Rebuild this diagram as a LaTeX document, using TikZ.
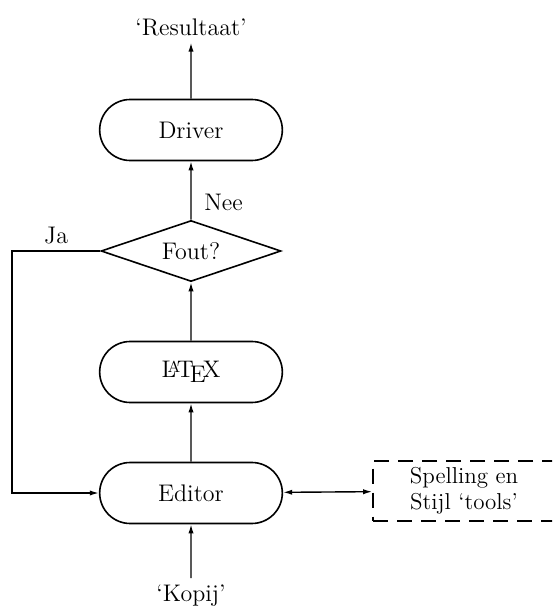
\documentclass[tikz,border=0pt]{standalone}
\usetikzlibrary{shapes.misc,shapes.geometric,arrows.meta}

\begin{document}
\begin{tikzpicture}[x=0.5pt,y=-0.5pt,
    >={Latex[length=4.5pt,width=2.6pt]},
    font=\large,
    pill/.style={draw, line width=0.8pt, rounded rectangle, minimum width=98pt, minimum height=30.5pt},
    choice/.style={draw, line width=0.8pt, diamond, aspect=3, inner sep=0pt, minimum width=90pt, minimum height=30.5pt},
    toolbox/.style={draw, line width=0.8pt, dash pattern=on 7.5pt off 4.5pt, minimum width=91pt, minimum height=30pt, align=center},
    flow/.style={->, line width=0.7pt}]
            \clip (0,0) rectangle (552,610);

            \node (res) at (191,27) {`Resultaat'};
            \node[pill] (driver) at (191,130) {Driver};
            \node[choice] (fout) at (191,251) {Fout?};
            \node[pill] (latex) at (191,372) {\LaTeX};
            \node[pill] (editor) at (191,493) {Editor};
            \node (kopij) at (191,596) {`Kopij'};
            \node[toolbox, font=\normalsize\fontsize{11.5}{13}\selectfont] (tools) at (464,491) {Spelling en\\Stijl `tools'};
            \coordinate (ja) at (12,251);

            \draw[flow] (driver) -- (res);
            \draw[flow] (fout) -- node[right=3pt, pos=0.3] (nee) {Nee} (driver);
            \draw[flow] (latex) -- (fout);
            \draw[flow] (editor) -- (latex);
            \draw[flow] (kopij) -- (editor);
            \draw[flow] (fout.west) -- node[above, pos=0.5] (jalabel) {Ja} (ja) |- (editor.west);
            \draw[flow, <->] (editor) -- (tools);
        \end{tikzpicture}
\end{document}
